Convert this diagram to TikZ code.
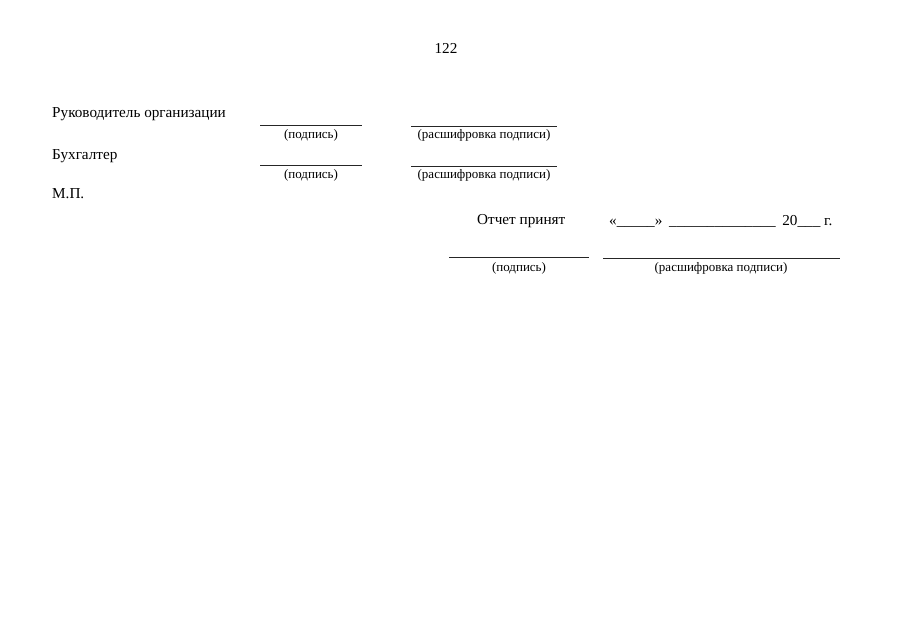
\documentclass[tikz,border=0pt]{standalone}
\usepackage{fontspec}
\setmainfont{Liberation Serif}
\begin{document}
\begin{tikzpicture}[x=1pt,y=-1pt,
  main/.style={font=\fontsize{15.2}{18}\selectfont, inner sep=0pt},
  small/.style={font=\fontsize{13}{15}\selectfont, inner sep=0pt},
  sigline/.style={line width=0.7pt, draw=black!85}]
\useasboundingbox[fill=white] (0,0) rectangle (905,640);
\node[main] (page) at (446,48) {122};
\node[main, anchor=west] (ruk) at (52,114) {Руководитель организации};
\draw[sigline] (260,125) -- (362,125);
\draw[sigline] (411,126) -- (557,126);
\node[small] (p1) at (311,135) {(подпись)};
\node[small] (r1) at (484,135) {(расшифровка подписи)};
\node[main, anchor=west] (buh) at (52,156) {Бухгалтер};
\draw[sigline] (260,165) -- (362,165);
\draw[sigline] (411,166) -- (557,166);
\node[small] (p2) at (311,175) {(подпись)};
\node[small] (r2) at (484,175) {(расшифровка подписи)};
\node[main, anchor=west] (mp) at (52,194) {М.П.};
\node[main, anchor=west] (otch) at (477,221) {Отчет принят};
\node[main, anchor=west] (date) at (609,221) {«\_\_\_\_\_»\hspace{3pt} \_\_\_\_\_\_\_\_\_\_\_\_\_\_\hspace{3pt} 20\_\_\_ г.};
\draw[sigline] (449,257) -- (589,257);
\draw[sigline] (603,258) -- (840,258);
\node[small] (p3) at (519,268) {(подпись)};
\node[small] (r3) at (721,268) {(расшифровка подписи)};
\end{tikzpicture}
\end{document}
